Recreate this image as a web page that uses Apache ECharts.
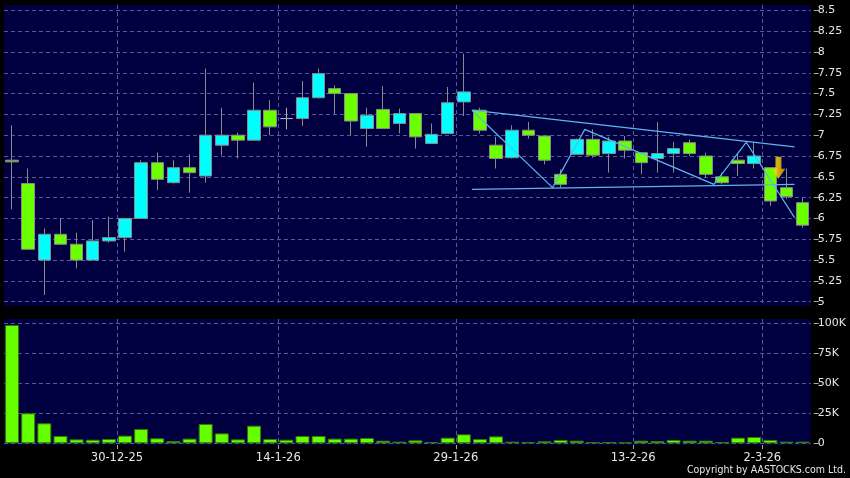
<!DOCTYPE html>
<html><head><meta charset="utf-8">
<script src="https://cdn.jsdelivr.net/npm/echarts@6/dist/echarts.min.js"></script>
<style>html,body{margin:0;padding:0;background:#000;}#c{width:850px;height:478px;}</style>
</head><body><div id="c"></div>
<script>
const dates = ['17-12-25','18-12-25','19-12-25','22-12-25','23-12-25','24-12-25','29-12-25','30-12-25','31-12-25','2-1-26',
  '5-1-26','6-1-26','7-1-26','8-1-26','9-1-26','12-1-26','13-1-26','14-1-26','15-1-26','16-1-26',
  '19-1-26','20-1-26','21-1-26','22-1-26','23-1-26','26-1-26','27-1-26','28-1-26','29-1-26','30-1-26',
  '2-2-26','3-2-26','4-2-26','5-2-26','6-2-26','9-2-26','10-2-26','11-2-26','12-2-26','13-2-26',
  '16-2-26','20-2-26','23-2-26','24-2-26','25-2-26','26-2-26','27-2-26','2-3-26','3-3-26','4-3-26'];
const opens = [6.70,6.42,5.50,5.81,5.69,5.50,5.73,5.77,6.00,6.67, 6.43,6.61,6.51,6.88,7.00,6.94,7.30,7.20,7.20,7.45,
  7.56,7.50,7.08,7.31,7.14,7.26,6.90,7.02,7.40,7.30, 6.88,6.73,7.06,6.99,6.53,6.77,6.95,6.78,6.93,6.79,
  6.72,6.78,6.91,6.75,6.50,6.70,6.66,6.61,6.37,6.19];
const closes = [6.68,5.63,5.81,5.69,5.50,5.73,5.77,6.00,6.67,6.47, 6.61,6.55,7.00,7.00,6.94,7.30,7.10,7.20,7.45,7.74,
  7.50,7.17,7.24,7.08,7.26,6.98,7.01,7.39,7.52,7.06, 6.72,7.06,7.00,6.70,6.41,6.95,6.76,6.93,6.82,6.67,
  6.78,6.84,6.78,6.53,6.43,6.66,6.75,6.21,6.26,5.92];
const lows = [6.11,5.63,5.08,5.69,5.40,5.50,5.71,5.60,6.00,6.34, 6.42,6.31,6.43,6.76,6.72,6.94,7.00,7.07,7.11,7.44,
  7.25,7.00,6.86,7.08,7.02,6.84,6.90,7.02,7.23,7.02, 6.60,6.72,6.96,6.65,6.37,6.77,6.73,6.55,6.72,6.53,
  6.55,6.55,6.75,6.49,6.41,6.51,6.60,6.15,6.23,5.89];
const highs = [7.12,6.60,5.88,6.00,5.83,5.98,6.02,6.00,6.70,6.79, 6.70,6.77,7.80,7.33,7.03,7.63,7.42,7.33,7.65,7.80,
  7.60,7.50,7.33,7.59,7.32,7.26,7.14,7.58,7.98,7.33, 6.98,7.12,7.16,6.99,6.59,6.96,7.07,6.98,6.99,6.79,
  7.16,6.92,6.95,6.79,6.55,6.78,6.92,6.61,6.60,6.25];
const volumes = [98600,25000,16700,6100,3300,3000,3600,6400,11900,4200, 1900,3900,16100,8300,3300,14700,3600,3000,6100,6100,
  3900,3900,4400,2200,1400,2500,1100,4700,7500,3600, 5800,1400,1100,1700,2800,2200,1100,1100,800,2200,
  1900,2800,2200,2200,1100,4700,5300,2800,1400,1400];
const dateTicks = ['30-12-25','14-1-26','29-1-26','13-2-26','2-3-26'];
const priceTicks = [5,5.25,5.5,5.75,6,6.25,6.5,6.75,7,7.25,7.5,7.75,8,8.25,8.5];
const volumeTicks = [0,25000,50000,75000,100000];
// trendlines: [candle position (fractional), price]
const upperLine = [[28.5,7.30],[48.5,6.86]];
const lowerLine = [[28.5,6.35],[48.5,6.41]];
const zigzagLine = [[28.5,7.30],[33.5,6.37],[35.5,7.07],[43.5,6.41],[45.5,6.915],[48.5,6.01]];
const arrowPoint = [47.5,6.61];

const N = dates.length;
// half-step category axis: position k -> candle coordinate -0.5 + k*0.5
const halfCats = [];
for (let k = 0; k <= 2 * N; k++) {
  halfCats.push(k % 2 === 0 && k / 2 < N ? dates[k / 2] : '');
}
const isTickK = (i) => i % 2 === 0 && dateTicks.indexOf(halfCats[i]) >= 0;
const toHalf = (arr) => arr.map(p => [Math.round(2 * p[0] + 1), p[1]]);

const font = 'DejaVu Sans';
const textColor = '#e6e6e6';
const gridLine = { show: true, lineStyle: { color: '#58589a', type: [4, 3], width: 1 } };
const ohlc = opens.map((o, i) => [o, closes[i], lows[i], highs[i]]);

const chart = echarts.init(document.getElementById('c'), null, { renderer: 'canvas' });
chart.setOption({
  backgroundColor: '#000000',
  animation: false,
  title: {
    text: 'Copyright by AASTOCKS.com Ltd.', right: 4, top: 465, padding: 0,
    textStyle: { color: textColor, fontSize: 10.5, fontWeight: 'normal', fontFamily: 'DejaVu Sans Condensed' }
  },
  grid: [
    { left: 4, width: 806.7, top: 5, height: 301, show: true, backgroundColor: '#000040', borderWidth: 0 },
    { left: 4, width: 806.7, top: 319, height: 126, show: true, backgroundColor: '#000040', borderWidth: 0 }
  ],
  xAxis: [
    { type: 'category', gridIndex: 0, position: 'bottom', data: dates, boundaryGap: true, show: false },
    { type: 'category', gridIndex: 1, position: 'bottom', data: dates, boundaryGap: true, show: false },
    { type: 'category', gridIndex: 0, position: 'bottom', data: halfCats, boundaryGap: false,
      axisLine: { show: false }, axisTick: { show: false }, axisLabel: { show: false },
      splitLine: Object.assign({ interval: (i) => isTickK(i) }, gridLine) },
    { type: 'category', gridIndex: 1, position: 'bottom', data: halfCats, boundaryGap: false,
      axisLine: { show: false },
      axisTick: { show: true, interval: (i) => isTickK(i), length: 4, lineStyle: { color: '#aaaaaa' } },
      axisLabel: { show: true, interval: (i) => isTickK(i), color: textColor, fontSize: 11.5, fontFamily: font, margin: 7 },
      splitLine: Object.assign({ interval: (i) => isTickK(i) }, gridLine) }
  ],
  yAxis: [
    { type: 'value', gridIndex: 0, position: 'right', min: 4.9487, max: 8.5637, offset: 3,
      axisLine: { show: false },
      axisTick: { show: true, length: 5, customValues: priceTicks, lineStyle: { color: '#aaaaaa' } },
      axisLabel: { show: true, customValues: priceTicks, margin: 4, color: textColor, fontSize: 11, fontFamily: font,
        formatter: (v) => String(+v.toFixed(2)) },
      splitLine: gridLine },
    { type: 'value', gridIndex: 1, position: 'right', min: -1400, max: 103600, offset: 3,
      axisLine: { show: false },
      axisTick: { show: true, length: 5, customValues: volumeTicks, lineStyle: { color: '#aaaaaa' } },
      axisLabel: { show: true, customValues: volumeTicks, margin: 4, color: textColor, fontSize: 11, fontFamily: font,
        formatter: (v) => v === 0 ? '0' : Math.round(v / 1000) + 'K' },
      splitLine: gridLine }
  ],
  series: [
    { type: 'candlestick', xAxisIndex: 0, yAxisIndex: 0, data: ohlc, barWidth: 13,
      itemStyle: { color: '#00ffff', color0: '#6cff00', borderColor: '#8a8a8a', borderColor0: '#8a8a8a',
        borderColorDoji: '#b0b0b0', borderWidth: 1 } },
    { type: 'bar', xAxisIndex: 1, yAxisIndex: 1, data: volumes, barWidth: 14,
      itemStyle: { color: '#66ff00', borderColor: '#2f7a00', borderWidth: 1 } },
    { type: 'line', xAxisIndex: 2, yAxisIndex: 0, data: toHalf(upperLine), symbol: 'none', z: 5,
      lineStyle: { color: '#5fb4ee', width: 1.2 } },
    { type: 'line', xAxisIndex: 2, yAxisIndex: 0, data: toHalf(lowerLine), symbol: 'none', z: 5,
      lineStyle: { color: '#5fb4ee', width: 1.2 } },
    { type: 'line', xAxisIndex: 2, yAxisIndex: 0, data: toHalf(zigzagLine), symbol: 'none', z: 5,
      lineStyle: { color: '#5fb4ee', width: 1.2 } },
    { type: 'scatter', xAxisIndex: 2, yAxisIndex: 0, data: toHalf([arrowPoint]), z: 6,
      symbol: 'path://M4,0 L10,0 L10,12 L14,12 L7,22 L0,12 L4,12 Z', symbolSize: [14, 22],
      itemStyle: { color: { type: 'linear', x: 0, y: 0, x2: 1, y2: 0,
        colorStops: [{ offset: 0, color: '#ffb400' }, { offset: 0.45, color: '#ffe400' }, { offset: 1, color: '#ff9000' }] } } }
  ]
});
</script></body></html>
